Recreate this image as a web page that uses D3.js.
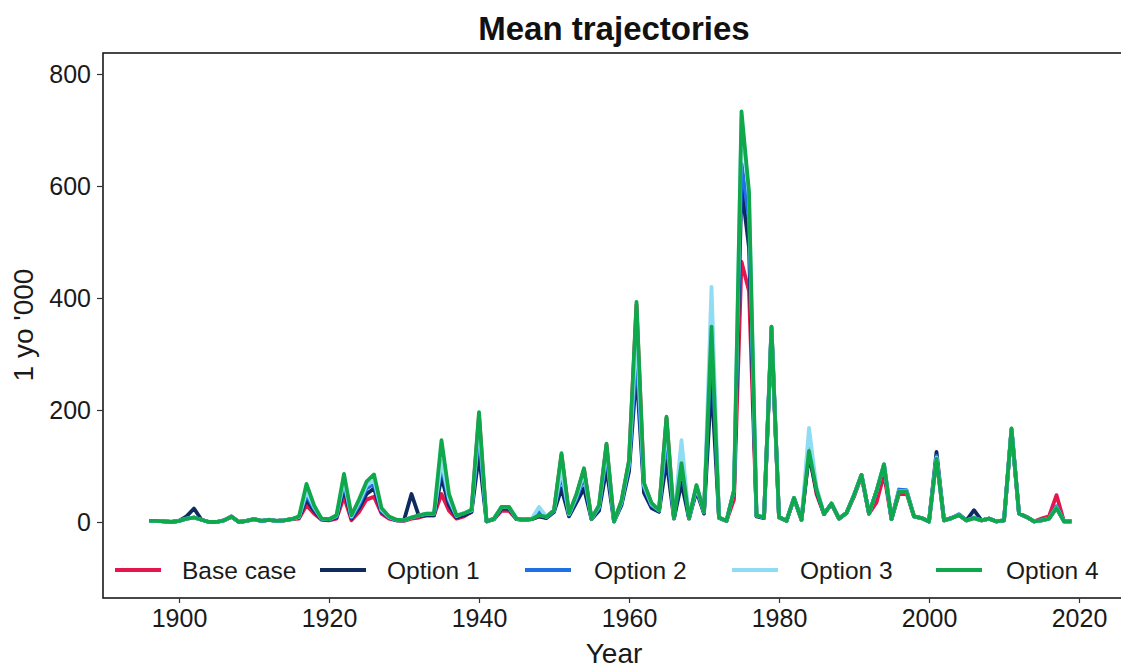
<!DOCTYPE html>
<html>
<head>
<meta charset="utf-8">
<script src="https://cdn.jsdelivr.net/npm/d3@7"></script>
<style>
  html, body { margin: 0; padding: 0; background: #ffffff; }
  svg { display: block; font-family: "Liberation Sans", Arial, Helvetica, sans-serif; }
</style>
</head>
<body>
<svg id="chart" width="1121" height="669"></svg>
<script>
// Years covered by the simulated trajectories
const years = [
  1896, 1897, 1898, 1899, 1900, 1901, 1902, 1903, 1904, 1905,
  1906, 1907, 1908, 1909, 1910, 1911, 1912, 1913, 1914, 1915,
  1916, 1917, 1918, 1919, 1920, 1921, 1922, 1923, 1924, 1925,
  1926, 1927, 1928, 1929, 1930, 1931, 1932, 1933, 1934, 1935,
  1936, 1937, 1938, 1939, 1940, 1941, 1942, 1943, 1944, 1945,
  1946, 1947, 1948, 1949, 1950, 1951, 1952, 1953, 1954, 1955,
  1956, 1957, 1958, 1959, 1960, 1961, 1962, 1963, 1964, 1965,
  1966, 1967, 1968, 1969, 1970, 1971, 1972, 1973, 1974, 1975,
  1976, 1977, 1978, 1979, 1980, 1981, 1982, 1983, 1984, 1985,
  1986, 1987, 1988, 1989, 1990, 1991, 1992, 1993, 1994, 1995,
  1996, 1997, 1998, 1999, 2000, 2001, 2002, 2003, 2004, 2005,
  2006, 2007, 2008, 2009, 2010, 2011, 2012, 2013, 2014, 2015,
  2016, 2017, 2018, 2019
];

// Mean number of 1 year olds ('000) per scenario
const baseCase = [
  2, 2, 1, 0, 2, 6, 8, 4, 0, 0,
  3, 10, 0, 2, 5, 2, 4, 2, 3, 5,
  6, 30, 15, 4, 3, 6, 45, 3, 18, 40,
  45, 15, 6, 3, 2, 6, 8, 12, 12, 50,
  20, 6, 10, 18, 190, 1, 5, 20, 20, 5,
  4, 5, 10, 8, 20, 120, 14, 48, 94, 6,
  28, 138, 1, 37, 108, 388, 68, 33, 20, 186,
  7, 103, 7, 64, 18, 345, 8, 2, 40, 465,
  412, 12, 8, 346, 9, 2, 42, 4, 125, 50,
  14, 32, 6, 16, 45, 82, 15, 35, 85, 5,
  50, 52, 10, 7, 1, 113, 3, 7, 12, 3,
  7, 3, 6, 1, 3, 165, 15, 9, 1, 6,
  10, 48, 1, 1
];

const option1 = [
  2, 2, 1, 0, 2, 10, 24, 4, 0, 0,
  3, 9, 0, 2, 5, 2, 4, 2, 3, 5,
  8, 40, 20, 5, 4, 8, 60, 6, 25, 50,
  60, 18, 8, 3, 3, 50, 10, 12, 12, 80,
  30, 8, 12, 18, 120, 1, 5, 24, 24, 5,
  4, 5, 10, 7, 18, 60, 10, 35, 60, 5,
  20, 95, 1, 30, 90, 270, 52, 25, 18, 110,
  6, 70, 6, 55, 15, 250, 7, 2, 55, 600,
  490, 10, 7, 340, 8, 2, 42, 4, 120, 55,
  14, 33, 6, 16, 48, 84, 15, 55, 100, 5,
  55, 55, 10, 7, 1, 125, 3, 7, 12, 3,
  21, 3, 6, 1, 3, 165, 15, 9, 1, 3,
  6, 25, 1, 1
];

const option2 = [
  2, 2, 1, 0, 2, 6, 8, 4, 0, 0,
  3, 10, 0, 2, 5, 2, 4, 2, 3, 5,
  9, 48, 24, 6, 4, 10, 68, 8, 30, 60,
  68, 20, 8, 3, 3, 8, 11, 14, 14, 100,
  38, 10, 16, 20, 160, 1, 6, 26, 26, 6,
  4, 5, 18, 9, 20, 85, 13, 42, 80, 6,
  25, 120, 1, 34, 100, 300, 62, 30, 20, 150,
  7, 100, 7, 60, 17, 330, 8, 2, 56, 640,
  540, 11, 8, 348, 9, 2, 43, 4, 140, 58,
  14, 33, 6, 16, 48, 84, 15, 55, 103, 5,
  58, 57, 10, 7, 1, 118, 3, 7, 14, 3,
  8, 3, 6, 1, 3, 166, 15, 9, 1, 3,
  6, 28, 1, 1
];

const option3 = [
  2, 2, 1, 0, 2, 6, 8, 4, 0, 0,
  3, 10, 0, 2, 5, 2, 4, 2, 3, 5,
  9, 55, 27, 6, 5, 11, 75, 10, 35, 65,
  75, 22, 9, 4, 3, 8, 12, 15, 15, 110,
  42, 11, 16, 21, 175, 1, 6, 27, 27, 6,
  4, 5, 27, 9, 21, 95, 14, 46, 88, 6,
  28, 130, 1, 36, 105, 340, 66, 32, 21, 170,
  7, 146, 7, 63, 18, 420, 8, 2, 57, 720,
  580, 12, 8, 349, 9, 2, 43, 4, 168, 62,
  14, 33, 6, 16, 48, 84, 15, 55, 103, 5,
  55, 55, 10, 7, 1, 115, 3, 7, 12, 3,
  7, 3, 6, 1, 3, 167, 15, 9, 1, 3,
  6, 26, 1, 1
];

const option4 = [
  2, 2, 1, 0, 2, 6, 8, 4, 0, 0,
  3, 10, 0, 2, 5, 2, 4, 2, 3, 5,
  10, 68, 30, 6, 5, 12, 86, 12, 40, 72,
  85, 25, 10, 4, 3, 8, 12, 15, 15, 146,
  50, 12, 15, 22, 196, 1, 6, 27, 27, 6,
  4, 5, 12, 9, 21, 123, 15, 50, 96, 6,
  30, 140, 1, 38, 110, 393, 70, 34, 21, 188,
  7, 105, 7, 66, 18, 349, 8, 2, 57, 733,
  590, 12, 8, 349, 9, 2, 43, 4, 127, 58,
  14, 33, 6, 16, 48, 84, 15, 55, 103, 5,
  54, 54, 10, 7, 1, 113, 3, 7, 12, 3,
  7, 3, 6, 1, 3, 167, 15, 9, 1, 3,
  6, 25, 1, 1
];

const seriesNames = ["Base case", "Option 1", "Option 2", "Option 3", "Option 4"];
const seriesColors = ["#e5164c", "#0f2a5e", "#1f6fe5", "#8fdcf5", "#10a84d"];
const seriesValues = [baseCase, option1, option2, option3, option4];

const xTicks = [1900, 1920, 1940, 1960, 1980, 2000, 2020];
const yTicks = [0, 200, 400, 600, 800];

const svg = d3.select("#chart");

// Panel geometry
const panel = { left: 103, top: 53, right: 1126, bottom: 598 };

const x = d3.scaleLinear().domain([1900, 2020]).range([179, 1079]);
const y = d3.scaleLinear().domain([0, 800]).range([522, 74]);

// Title
svg.append("text")
  .attr("x", 614)
  .attr("y", 40)
  .attr("text-anchor", "middle")
  .attr("font-size", 33)
  .attr("font-weight", "bold")
  .attr("fill", "#111")
  .text("Mean trajectories");

// Panel border
svg.append("rect")
  .attr("x", panel.left)
  .attr("y", panel.top)
  .attr("width", panel.right - panel.left)
  .attr("height", panel.bottom - panel.top)
  .attr("fill", "none")
  .attr("stroke", "#1a1a1a")
  .attr("stroke-width", 1.6);

// Y axis
const yAxis = svg.append("g")
  .attr("transform", `translate(${panel.left},0)`)
  .call(d3.axisLeft(y).tickValues(yTicks).tickSize(6).tickPadding(6));
yAxis.select(".domain").remove();
yAxis.selectAll(".tick line").attr("stroke", "#333").attr("stroke-width", 1.2);
yAxis.selectAll(".tick text")
  .attr("font-size", 25)
  .attr("fill", "#1a1a1a")
  .style("font-family", "'Liberation Sans', Arial, sans-serif");

// X axis
const xAxis = svg.append("g")
  .attr("transform", `translate(0,${panel.bottom})`)
  .call(d3.axisBottom(x).tickValues(xTicks).tickFormat(d3.format("d")).tickSize(5).tickPadding(6));
xAxis.select(".domain").remove();
xAxis.selectAll(".tick line").attr("stroke", "#333").attr("stroke-width", 1.2);
xAxis.selectAll(".tick text")
  .attr("font-size", 25)
  .attr("fill", "#1a1a1a")
  .style("font-family", "'Liberation Sans', Arial, sans-serif");

// Axis titles
svg.append("text")
  .attr("x", 614)
  .attr("y", 663)
  .attr("text-anchor", "middle")
  .attr("font-size", 28)
  .attr("fill", "#1a1a1a")
  .text("Year");

svg.append("text")
  .attr("transform", "translate(33,325) rotate(-90)")
  .attr("text-anchor", "middle")
  .attr("font-size", 28)
  .attr("fill", "#1a1a1a")
  .text("1 yo '000");

// Trajectory lines
const line = d3.line()
  .x((d, i) => x(years[i]))
  .y(d => y(d));

const plot = svg.append("g");
seriesValues.forEach((vals, k) => {
  plot.append("path")
    .datum(vals)
    .attr("d", line)
    .attr("fill", "none")
    .attr("stroke", seriesColors[k])
    .attr("stroke-width", 3.8)
    .attr("stroke-linejoin", "round")
    .attr("stroke-linecap", "butt");
});

// Legend along the bottom of the panel
const legendItems = [
  { key: 115, text: 182 },
  { key: 320, text: 387 },
  { key: 525, text: 594 },
  { key: 732, text: 800 },
  { key: 936, text: 1006 }
];
const legendY = 570;
const legend = svg.append("g");
seriesNames.forEach((name, k) => {
  legend.append("line")
    .attr("x1", legendItems[k].key)
    .attr("x2", legendItems[k].key + 46)
    .attr("y1", legendY)
    .attr("y2", legendY)
    .attr("stroke", seriesColors[k])
    .attr("stroke-width", 4);
  legend.append("text")
    .attr("x", legendItems[k].text)
    .attr("y", legendY)
    .attr("dy", "0.35em")
    .attr("font-size", 24.5)
    .attr("fill", "#1a1a1a")
    .text(name);
});
</script>
</body>
</html>
